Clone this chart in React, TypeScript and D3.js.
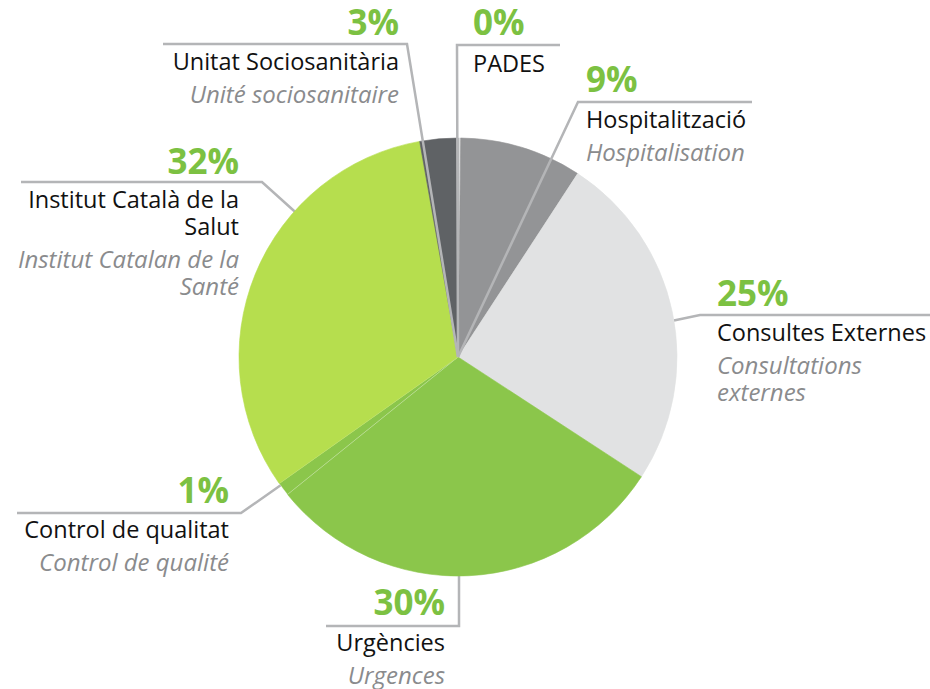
import * as d3 from "d3";
import { useEffect, useRef } from "react";

// Slice data, clockwise from 12 o'clock
const labelsCa = [
  "PADES",
  "Hospitalització",
  "Consultes Externes",
  "Urgències",
  "Control de qualitat",
  "Institut Català de la Salut",
  "Unitat Sociosanitària",
];
const titleLines = [
  ["PADES"],
  ["Hospitalització"],
  ["Consultes Externes"],
  ["Urgències"],
  ["Control de qualitat"],
  ["Institut Català de la", "Salut"],
  ["Unitat Sociosanitària"],
];
const frenchLines = [
  [],
  ["Hospitalisation"],
  ["Consultations", "externes"],
  ["Urgences"],
  ["Control de qualité"],
  ["Institut Catalan de la", "Santé"],
  ["Unité sociosanitaire"],
];
const shares = [0.2, 9, 25, 30, 1, 32, 2.8];
const percentLabels = ["0%", "9%", "25%", "30%", "1%", "32%", "3%"];
const sliceColors = ["#d9dadb", "#939496", "#e1e2e3", "#8bc64b", "#8bc64b", "#b6de4e", "#5f6265"];

// Label layout: line y, elbow x (pie side), far x, text x, alignment, leader end (deg, radius or 0 = centre)
const labelLayout = [
  { lineY: 45, elbowX: 457, farX: 560, textX: 473, anchor: "start", pctY: 35, titleY: 72, endAngle: 0, endR: 0, vertical: false },
  { lineY: 102, elbowX: 578, farX: 752, textX: 586, anchor: "start", pctY: 92, titleY: 128, endAngle: 0, endR: 0, vertical: false },
  { lineY: 315, elbowX: 700, farX: 930, textX: 717, anchor: "start", pctY: 306, titleY: 341, endAngle: 80.4, endR: 219, vertical: false },
  { lineY: 626, elbowX: 459, farX: 326, textX: 445, anchor: "end", pctY: 615, titleY: 651, endAngle: 179.7, endR: 210, vertical: true },
  { lineY: 513, elbowX: 241, farX: 17, textX: 229, anchor: "end", pctY: 503, titleY: 538, endAngle: 234.1, endR: 215, vertical: false },
  { lineY: 182, elbowX: 262, farX: 21, textX: 239, anchor: "end", pctY: 174, titleY: 208, endAngle: 311.7, endR: 215, vertical: false },
  { lineY: 44, elbowX: 407, farX: 163, textX: 399, anchor: "end", pctY: 35, titleY: 70, endAngle: 0, endR: 0, vertical: false },
];

const WIDTH = 930;
const HEIGHT = 689;

export default function App() {
  const svgRef = useRef<SVGSVGElement | null>(null);

  useEffect(() => {
    if (!svgRef.current) return;
    const svg = d3.select(svgRef.current);
    svg.selectAll("*").remove();

    const cx = 458;
    const cy = 357;
    const radius = 219;
    const lineColor = "#b4b5b7";
    const font = "'Open Sans', 'Noto Sans', sans-serif";

    const pie = d3
      .pie<number>()
      .sort(null)
      .value((d) => d);
    const arcs = pie(shares);
    const arc = d3
      .arc<d3.PieArcDatum<number>>()
      .innerRadius(0)
      .outerRadius(radius);

    const polar = (deg: number, r: number) => {
      const a = (deg * Math.PI) / 180;
      return [cx + r * Math.sin(a), cy - r * Math.cos(a)];
    };

    const leaderPath = (i: number) => {
      const l = labelLayout[i];
      const end = l.endR === 0 ? [cx, cy] : polar(l.endAngle, l.endR);
      const p = d3.path();
      p.moveTo(l.farX, l.lineY);
      p.lineTo(l.elbowX, l.lineY);
      if (l.vertical) p.lineTo(l.elbowX, end[1]);
      else p.lineTo(end[0], end[1]);
      return p.toString();
    };

    // Leaders that stop at the rim sit under the pie
    const under = svg.append("g");
    labelLayout.forEach((l, i) => {
      if (l.endR === 0) return;
      under
        .append("path")
        .attr("d", leaderPath(i))
        .attr("fill", "none")
        .attr("stroke", lineColor)
        .attr("stroke-width", 2.5);
    });

    // Pie
    svg
      .append("g")
      .attr("transform", `translate(${cx}, ${cy})`)
      .selectAll("path")
      .data(arcs)
      .join("path")
      .attr("d", arc)
      .attr("fill", (d, i) => sliceColors[i])
      .attr("stroke", (d, i) => (i === 4 ? "#ffffff" : sliceColors[i]))
      .attr("stroke-opacity", (d, i) => (i === 4 ? 0.5 : 1))
      .attr("stroke-width", 0.6);

    // Leaders reaching the centre drawn on top
    const over = svg.append("g");
    labelLayout.forEach((l, i) => {
      if (l.endR !== 0) return;
      over
        .append("path")
        .attr("d", leaderPath(i))
        .attr("fill", "none")
        .attr("stroke", lineColor)
        .attr("stroke-width", 2.5);
    });

    // Labels
    const labels = svg.append("g").attr("font-family", font);
    labelsCa.forEach((name, i) => {
      const l = labelLayout[i];
      const g = labels.append("g").attr("text-anchor", l.anchor);

      g.append("text")
        .attr("x", l.textX)
        .attr("y", l.pctY)
        .attr("font-size", 35)
        .attr("font-weight", 700)
        .attr("fill", "#7cc142")
        .text(percentLabels[i]);

      let y = l.titleY;
      titleLines[i].forEach((t, k) => {
        if (k > 0) y += 27;
        g.append("text")
          .attr("x", l.textX)
          .attr("y", y)
          .attr("font-size", 23.5)
          .attr("fill", "#111111")
          .text(t);
      });

      y += 33;
      frenchLines[i].forEach((t, k) => {
        if (k > 0) y += 27;
        g.append("text")
          .attr("x", l.textX)
          .attr("y", y)
          .attr("font-size", 24)
          .attr("font-style", "italic")
          .attr("fill", "#8a8b8d")
          .text(t);
      });
    });
  }, []);

  return (
    <svg
      ref={svgRef}
      width={WIDTH}
      height={HEIGHT}
      style={{ position: "absolute", left: 0, top: 0, background: "#ffffff" }}
    ></svg>
  );
}
